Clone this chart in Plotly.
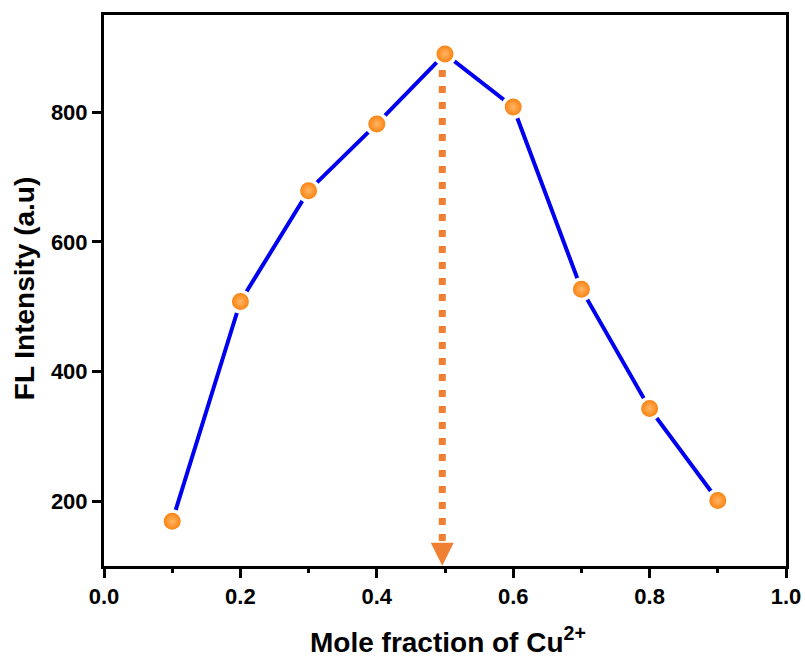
import plotly.graph_objects as go

# Data
mole_fraction = [0.1, 0.2, 0.3, 0.4, 0.5, 0.6, 0.7, 0.8, 0.9]
fl_intensity = [169, 508, 679, 782, 890, 808, 527, 343, 201]

# Vertical dotted guide at the maximum (annotation)
guide_x = [0.496, 0.496]
guide_y = [865, 134]
arrow_tip = (0.496, 100.5)

x_ticks = [0.0, 0.2, 0.4, 0.6, 0.8, 1.0]
y_ticks = [200, 400, 600, 800]

x_title = "<b>Mole fraction of Cu<sup>2+</sup></b>"
y_title = "<b>FL Intensity (a.u)</b>"

FONT = "Liberation Sans"
ORANGE_GUIDE = "#EE7F33"

fig = go.Figure()

fig.add_trace(go.Scatter(
    x=guide_x, y=guide_y, mode="lines",
    line=dict(color=ORANGE_GUIDE, width=7, dash="7px,9px"),
    hoverinfo="skip", showlegend=False,
))

fig.add_trace(go.Scatter(
    x=mole_fraction, y=fl_intensity, mode="lines+markers",
    line=dict(color="#0000F0", width=4),
    marker=dict(size=20.5, color="#F97A00",
                gradient=dict(type="radial", color="#FFB566"),
                line=dict(color="white", width=3.5)),
    showlegend=False,
))

fig.add_annotation(
    x=arrow_tip[0], y=arrow_tip[1], xref="x", yref="y",
    ax=0, ay=-20, axref="pixel", ayref="pixel",
    text="", showarrow=True, arrowhead=2, arrowsize=2.3, arrowwidth=2,
    arrowcolor=ORANGE_GUIDE, standoff=0,
)

# Axis titles as annotations for exact placement
fig.add_annotation(
    text=x_title, xref="paper", yref="paper", x=0.504, y=-0.134,
    xanchor="center", yanchor="middle", showarrow=False,
    font=dict(family=FONT, size=28, color="black"),
)
fig.add_annotation(
    text=y_title, xref="paper", yref="paper", x=-0.117, y=0.5045,
    xanchor="center", yanchor="middle", showarrow=False, textangle=-90,
    font=dict(family=FONT, size=28, color="black"),
)

axis_common = dict(
    showline=True, linecolor="black", linewidth=3, mirror=True,
    ticks="outside", tickcolor="black", tickwidth=3, ticklen=9,
    showgrid=False, zeroline=False, automargin=False,
    tickfont=dict(family=FONT, size=22, color="black", weight="bold"),
)

fig.update_xaxes(
    range=[0, 1], tickvals=x_ticks, tickformat=".1f",
    minor=dict(dtick=0.1, tick0=0, ticks="outside", ticklen=4, tickwidth=3, tickcolor="black", showgrid=False),
    **axis_common,
)
fig.update_yaxes(
    range=[100, 950], tickvals=y_ticks,
    **axis_common,
)

fig.update_layout(
    width=805, height=657,
    margin=dict(l=104, r=19, t=15, b=91),
    paper_bgcolor="white", plot_bgcolor="white",
)

# Remove the default page margin so the 805x657 figure fills the window exactly
fig.write_html(
    "out.html",
    config={"displayModeBar": False},
    post_script="document.body.style.margin='0';document.body.style.overflow='hidden';",
)
